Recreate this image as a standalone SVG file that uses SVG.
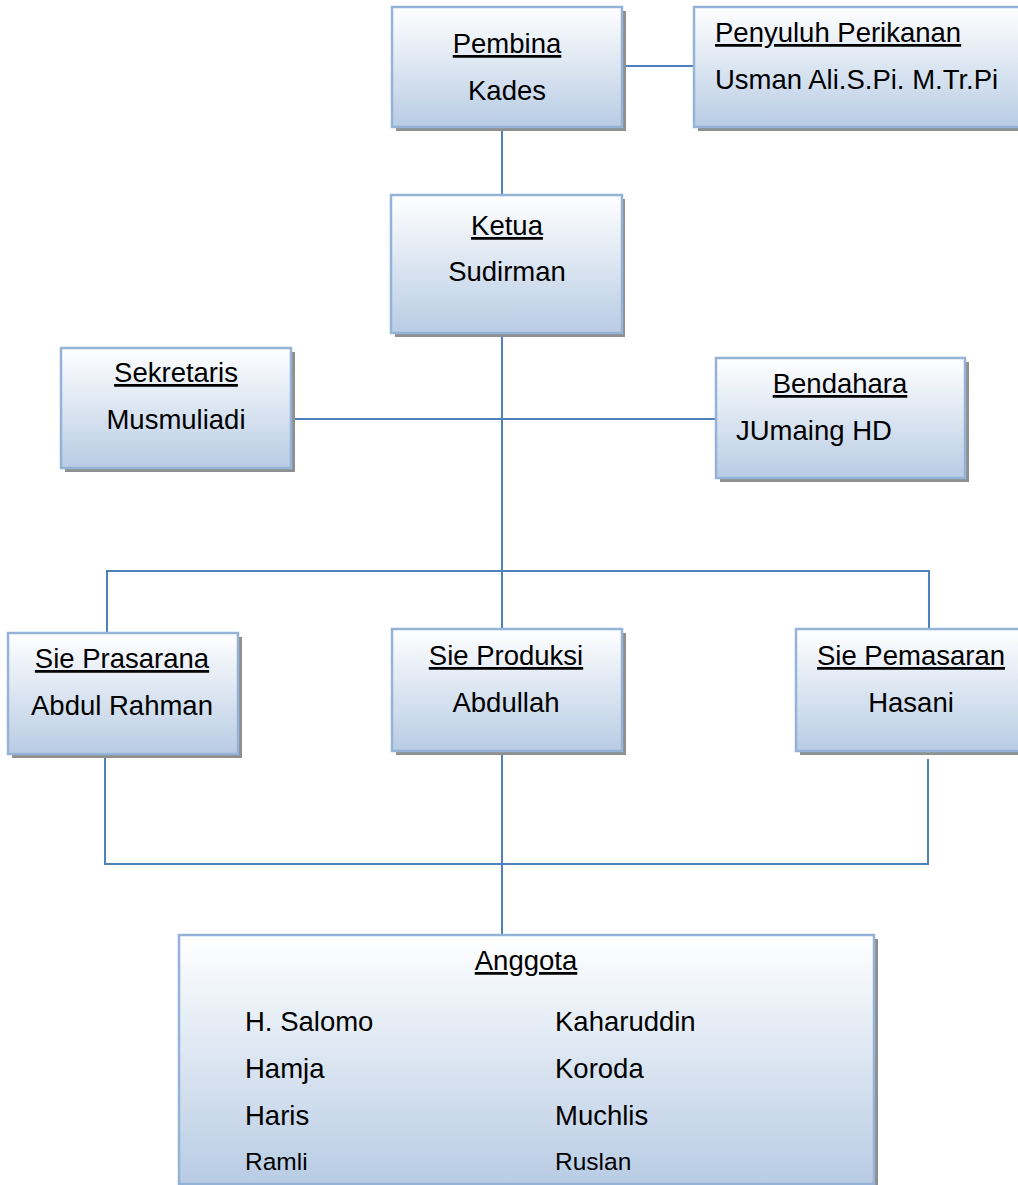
<svg xmlns="http://www.w3.org/2000/svg" width="1018" height="1185" viewBox="0 0 1018 1185">
<defs>
<linearGradient id="g" x1="0" y1="0" x2="0" y2="1">
<stop offset="0" stop-color="#ffffff"/>
<stop offset="0.45" stop-color="#dfe8f3"/>
<stop offset="1" stop-color="#b8cce4"/>
</linearGradient>
</defs>
<style>
.box{fill:url(#g);stroke:#95b3d7;stroke-width:2.5}
.sh{fill:#8f8f8f}
.t{font-family:"Liberation Sans",Arial,sans-serif;font-size:27.5px;fill:#000}
.c{text-anchor:middle}
.u{text-decoration:underline}
.s{font-size:24.5px}
.ln{stroke:#4f81bd;stroke-width:2;fill:none}
</style>
<rect width="1018" height="1185" fill="#fff"/>
<g id="connectors">
<line class="ln" x1="502" y1="128" x2="502" y2="196"/>
<line class="ln" x1="622" y1="66" x2="694" y2="66"/>
<line class="ln" x1="502" y1="333" x2="502" y2="630"/>
<line class="ln" x1="291" y1="419" x2="716" y2="419"/>
<polyline class="ln" points="107,633 107,571 929,571 929,629"/>
<polyline class="ln" points="105,754 105,864 928,864 928,759"/>
<line class="ln" x1="502" y1="751" x2="502" y2="935"/>
</g>
<g id="pembina">
<rect class="sh" x="396" y="11" width="230" height="120"/>
<rect class="box" x="392" y="7" width="230" height="120"/>
<text class="t c u" x="507" y="53">Pembina</text>
<text class="t c" x="507" y="100">Kades</text>
</g>
<g id="penyuluh">
<rect class="sh" x="698" y="11" width="340" height="120"/>
<rect class="box" x="694" y="7" width="340" height="120"/>
<text class="t u" x="715" y="42">Penyuluh Perikanan</text>
<text class="t" x="715" y="89">Usman Ali.S.Pi. M.Tr.Pi</text>
</g>
<g id="ketua">
<rect class="sh" x="395" y="199" width="230" height="138"/>
<rect class="box" x="391" y="195" width="231" height="138"/>
<text class="t c u" x="507" y="235">Ketua</text>
<text class="t c" x="507" y="281">Sudirman</text>
</g>
<g id="sekretaris">
<rect class="sh" x="65" y="352" width="230" height="120"/>
<rect class="box" x="61" y="348" width="230" height="120"/>
<text class="t c u" x="176" y="382">Sekretaris</text>
<text class="t c" x="176" y="429">Musmuliadi</text>
</g>
<g id="bendahara">
<rect class="sh" x="720" y="362" width="249" height="120"/>
<rect class="box" x="716" y="358" width="249" height="120"/>
<text class="t c u" x="840" y="393">Bendahara</text>
<text class="t" x="736" y="440">JUmaing HD</text>
</g>
<g id="sie-prasarana">
<rect class="sh" x="12" y="637" width="230" height="121"/>
<rect class="box" x="8" y="633" width="230" height="121"/>
<text class="t c u" x="122" y="668">Sie Prasarana</text>
<text class="t c" x="122" y="715">Abdul Rahman</text>
</g>
<g id="sie-produksi">
<rect class="sh" x="396" y="633" width="230" height="122"/>
<rect class="box" x="392" y="629" width="230" height="122"/>
<text class="t c u" x="506" y="665">Sie Produksi</text>
<text class="t c" x="506" y="712">Abdullah</text>
</g>
<g id="sie-pemasaran">
<rect class="sh" x="800" y="633" width="240" height="122"/>
<rect class="box" x="796" y="629" width="240" height="122"/>
<text class="t c u" x="911" y="665">Sie Pemasaran</text>
<text class="t c" x="911" y="712">Hasani</text>
</g>
<g id="anggota">
<rect class="sh" x="183" y="939" width="695" height="250"/>
<rect class="box" x="179" y="935" width="695" height="249"/>
<text class="t c u" x="526" y="970">Anggota</text>
<text class="t" x="245" y="1031">H. Salomo</text>
<text class="t" x="245" y="1078">Hamja</text>
<text class="t" x="245" y="1125">Haris</text>
<text class="t s" x="245" y="1170">Ramli</text>
<text class="t" x="555" y="1031">Kaharuddin</text>
<text class="t" x="555" y="1078">Koroda</text>
<text class="t" x="555" y="1125">Muchlis</text>
<text class="t s" x="555" y="1170">Ruslan</text>
</g>
</svg>
